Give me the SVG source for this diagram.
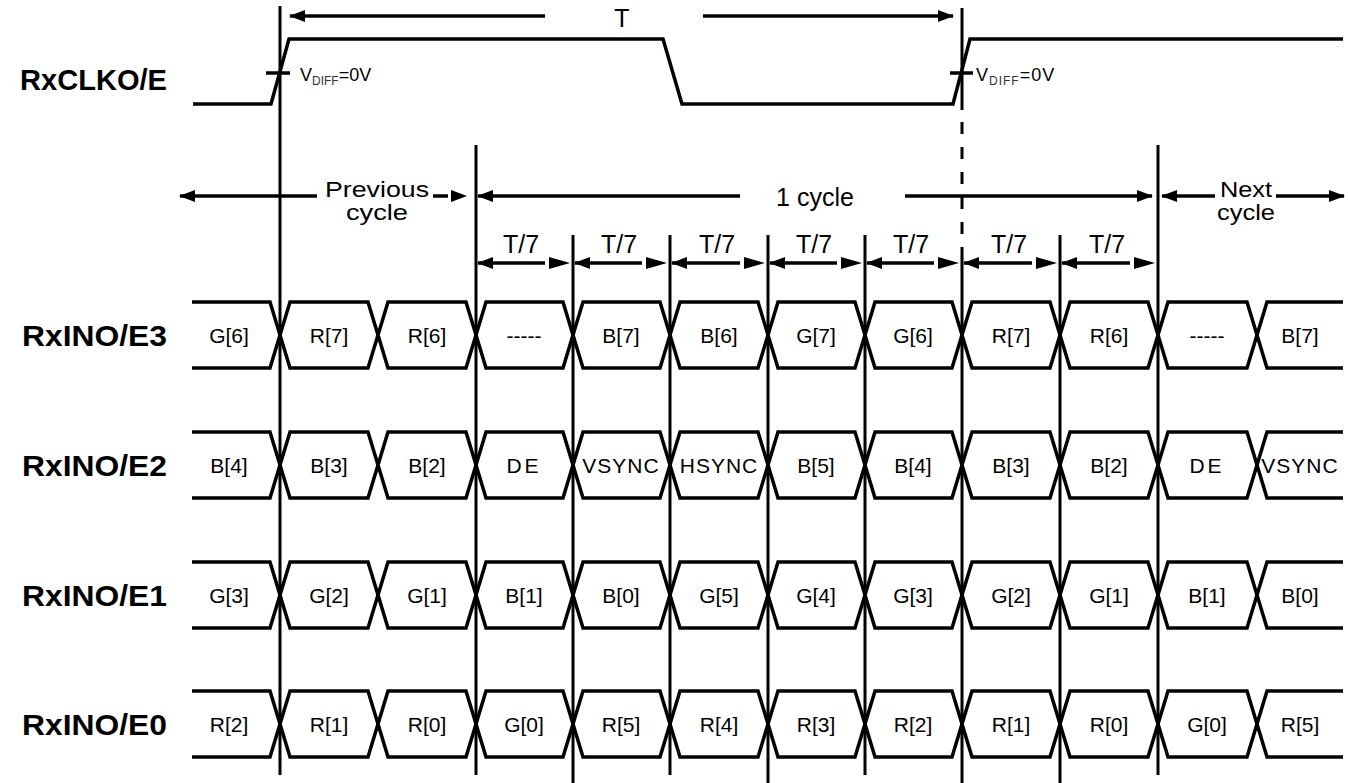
<svg xmlns="http://www.w3.org/2000/svg" xmlns:xlink="http://www.w3.org/1999/xlink" width="1348" height="783" viewBox="0 0 1348 783">
<style>
.w{fill:none;stroke:#000;stroke-width:3.5;stroke-linejoin:miter}
.v{stroke:#000;stroke-width:3;fill:none}
.a{stroke:#000;stroke-width:3.5;fill:none}
.lbl{font-family:"Liberation Sans",Arial,sans-serif;font-weight:bold;font-size:30px;fill:#000}
.d{font-family:"Liberation Sans",Arial,sans-serif;font-size:21px;fill:#000;text-anchor:middle}
.t{font-family:"Liberation Sans",Arial,sans-serif;font-size:25px;fill:#000;text-anchor:middle}
.t2{font-family:"Liberation Sans",Arial,sans-serif;font-size:22px;fill:#000;text-anchor:middle}
.vd{font-family:"Liberation Sans",Arial,sans-serif;font-size:18px;fill:#000}
</style>
<defs>
<marker id="ah" markerUnits="userSpaceOnUse" markerWidth="16" markerHeight="12" refX="15" refY="6" orient="auto-start-reverse">
<path d="M0,0 L16,6 L0,12 z" fill="#000"/>
</marker>
<g id="bus">
<polyline class="w" points="192,0 270,0 290,66 368,66 388,0 466,0 486,66 563,66 583,0 660,0 680,66 758,66 778,0 855,0 875,66 952,66 972,0 1050,0 1070,66 1148,66 1168,0 1247,0 1267,66 1343,66"/>
<polyline class="w" points="192,66 270,66 290,0 368,0 388,66 466,66 486,0 563,0 583,66 660,66 680,0 758,0 778,66 855,66 875,0 952,0 972,66 1050,66 1070,0 1148,0 1168,66 1247,66 1267,0 1343,0"/>
</g>
</defs>
<rect width="1348" height="783" fill="#fff"/>

<g id="labels">
<text class="lbl" x="20" y="90" textLength="147" lengthAdjust="spacingAndGlyphs">RxCLKO/E</text>
<text class="lbl" x="22" y="346" textLength="145" lengthAdjust="spacingAndGlyphs">RxINO/E3</text>
<text class="lbl" x="22" y="476" textLength="145" lengthAdjust="spacingAndGlyphs">RxINO/E2</text>
<text class="lbl" x="22" y="606" textLength="145" lengthAdjust="spacingAndGlyphs">RxINO/E1</text>
<text class="lbl" x="22" y="735" textLength="145" lengthAdjust="spacingAndGlyphs">RxINO/E0</text>
</g>

<g id="clock">
<polyline class="w" points="193,104 271,104 289,39 663,39 682,104 953,104 970,39 1343,39"/>
<line class="w" x1="266" y1="73" x2="290" y2="73"/>
<line class="w" x1="950" y1="73" x2="973" y2="73"/>
<text class="vd" x="300" y="81">V<tspan font-size="12" dy="4" fill="#333">DIFF</tspan><tspan dy="-4">=0V</tspan></text>
<text class="vd" x="976" y="81" letter-spacing="1">V<tspan font-size="12" dy="4" fill="#333">DIFF</tspan><tspan dy="-4">=0V</tspan></text>
</g>

<g id="gridlines">
<line class="v" x1="280" y1="6" x2="280" y2="775"/>
<line class="v" x1="476" y1="145" x2="476" y2="775"/>
<line class="v" x1="573" y1="235" x2="573" y2="783"/>
<line class="v" x1="670" y1="235" x2="670" y2="775"/>
<line class="v" x1="768" y1="235" x2="768" y2="783"/>
<line class="v" x1="865" y1="235" x2="865" y2="775"/>
<line class="v" x1="962" y1="8" x2="962" y2="110"/>
<line class="v" x1="962" y1="122" x2="962" y2="262" stroke-dasharray="12 13"/>
<line class="v" x1="962" y1="258" x2="962" y2="783"/>
<line class="v" x1="1060" y1="235" x2="1060" y2="783"/>
<line class="v" x1="1158" y1="145" x2="1158" y2="775"/>
</g>

<g id="row-e3">
<use xlink:href="#bus" y="302"/>
<text class="d" x="229" y="343">G[6]</text>
<text class="d" x="329" y="343">R[7]</text>
<text class="d" x="427" y="343">R[6]</text>
<text class="d" x="524" y="343">-----</text>
<text class="d" x="621" y="343">B[7]</text>
<text class="d" x="719" y="343">B[6]</text>
<text class="d" x="816" y="343">G[7]</text>
<text class="d" x="913" y="343">G[6]</text>
<text class="d" x="1011" y="343">R[7]</text>
<text class="d" x="1109" y="343">R[6]</text>
<text class="d" x="1207" y="343">-----</text>
<text class="d" x="1300" y="343">B[7]</text>
</g>

<g id="row-e2">
<use xlink:href="#bus" y="432"/>
<text class="d" x="229" y="473">B[4]</text>
<text class="d" x="329" y="473">B[3]</text>
<text class="d" x="427" y="473">B[2]</text>
<text class="d" x="524" y="473" letter-spacing="3">DE</text>
<text class="d" x="621" y="473" letter-spacing="1">VSYNC</text>
<text class="d" x="719" y="473" letter-spacing="1">HSYNC</text>
<text class="d" x="816" y="473">B[5]</text>
<text class="d" x="913" y="473">B[4]</text>
<text class="d" x="1011" y="473">B[3]</text>
<text class="d" x="1109" y="473">B[2]</text>
<text class="d" x="1207" y="473" letter-spacing="3">DE</text>
<text class="d" x="1300" y="473" letter-spacing="1">VSYNC</text>
</g>

<g id="row-e1">
<use xlink:href="#bus" y="562"/>
<text class="d" x="229" y="603">G[3]</text>
<text class="d" x="329" y="603">G[2]</text>
<text class="d" x="427" y="603">G[1]</text>
<text class="d" x="524" y="603">B[1]</text>
<text class="d" x="621" y="603">B[0]</text>
<text class="d" x="719" y="603">G[5]</text>
<text class="d" x="816" y="603">G[4]</text>
<text class="d" x="913" y="603">G[3]</text>
<text class="d" x="1011" y="603">G[2]</text>
<text class="d" x="1109" y="603">G[1]</text>
<text class="d" x="1207" y="603">B[1]</text>
<text class="d" x="1300" y="603">B[0]</text>
</g>

<g id="row-e0">
<use xlink:href="#bus" y="691"/>
<text class="d" x="229" y="732">R[2]</text>
<text class="d" x="329" y="732">R[1]</text>
<text class="d" x="427" y="732">R[0]</text>
<text class="d" x="524" y="732">G[0]</text>
<text class="d" x="621" y="732">R[5]</text>
<text class="d" x="719" y="732">R[4]</text>
<text class="d" x="816" y="732">R[3]</text>
<text class="d" x="913" y="732">R[2]</text>
<text class="d" x="1011" y="732">R[1]</text>
<text class="d" x="1109" y="732">R[0]</text>
<text class="d" x="1207" y="732">G[0]</text>
<text class="d" x="1300" y="732">R[5]</text>
</g>

<g id="connectors">
<line class="a" x1="545" y1="16" x2="290" y2="16" marker-end="url(#ah)"/>
<text class="t" x="622" y="27" font-size="24">T</text>
<line class="a" x1="703" y1="16" x2="953" y2="16" marker-end="url(#ah)"/>

<line class="a" x1="317" y1="196" x2="180" y2="196" marker-end="url(#ah)"/>
<text class="t2" x="377" y="197" textLength="104" lengthAdjust="spacingAndGlyphs">Previous</text>
<text class="t2" x="377" y="220" textLength="62" lengthAdjust="spacingAndGlyphs">cycle</text>
<line class="a" x1="433" y1="196" x2="448" y2="196"/>
<polygon points="451,190 467,196 451,202" fill="#000"/>

<line class="a" x1="740" y1="196" x2="478" y2="196" marker-end="url(#ah)"/>
<text class="t" x="815" y="206">1 cycle</text>
<line class="a" x1="905" y1="196" x2="1152" y2="196" marker-end="url(#ah)"/>

<line class="a" x1="1215" y1="196" x2="1162" y2="196" marker-end="url(#ah)"/>
<text class="t2" x="1246" y="197" textLength="52" lengthAdjust="spacingAndGlyphs">Next</text>
<text class="t2" x="1246" y="220" textLength="58" lengthAdjust="spacingAndGlyphs">cycle</text>
<line class="a" x1="1276" y1="196" x2="1344" y2="196" marker-end="url(#ah)"/>

<g id="t7">
<line class="a" x1="545" y1="263" x2="478" y2="263" marker-end="url(#ah)"/>
<polygon points="549,257 570,263 549,269" fill="#000"/>
<text class="t" x="521" y="253">T/7</text>
<line class="a" x1="642" y1="263" x2="575" y2="263" marker-end="url(#ah)"/>
<polygon points="646,257 667,263 646,269" fill="#000"/>
<text class="t" x="619" y="253">T/7</text>
<line class="a" x1="740" y1="263" x2="672" y2="263" marker-end="url(#ah)"/>
<polygon points="744,257 765,263 744,269" fill="#000"/>
<text class="t" x="717" y="253">T/7</text>
<line class="a" x1="837" y1="263" x2="770" y2="263" marker-end="url(#ah)"/>
<polygon points="841,257 862,263 841,269" fill="#000"/>
<text class="t" x="814" y="253">T/7</text>
<line class="a" x1="934" y1="263" x2="867" y2="263" marker-end="url(#ah)"/>
<polygon points="938,257 959,263 938,269" fill="#000"/>
<text class="t" x="911" y="253">T/7</text>
<line class="a" x1="1032" y1="263" x2="964" y2="263" marker-end="url(#ah)"/>
<polygon points="1036,257 1057,263 1036,269" fill="#000"/>
<text class="t" x="1009" y="253">T/7</text>
<line class="a" x1="1130" y1="263" x2="1062" y2="263" marker-end="url(#ah)"/>
<polygon points="1134,257 1155,263 1134,269" fill="#000"/>
<text class="t" x="1107" y="253">T/7</text>
</g>
</g>
</svg>
